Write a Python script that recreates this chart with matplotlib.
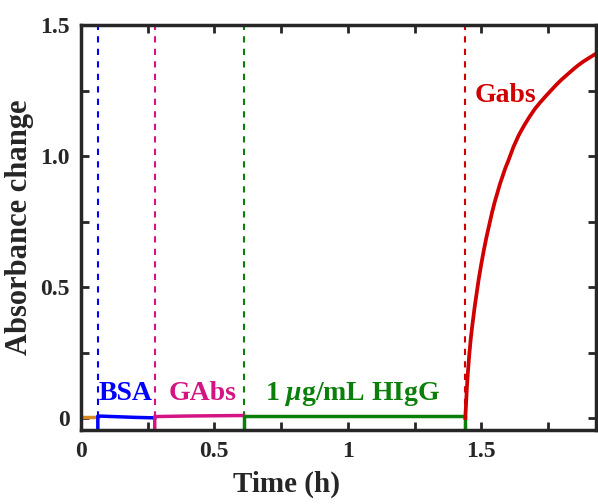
import matplotlib
matplotlib.use("Agg")
import matplotlib.pyplot as plt
from matplotlib.ticker import MultipleLocator

plt.rcParams['font.family'] = ['Liberation Serif', 'DejaVu Serif']
plt.rcParams['font.weight'] = 'bold'
plt.rcParams['mathtext.fontset'] = 'custom'
plt.rcParams['mathtext.it'] = 'Liberation Serif:italic:bold'
plt.rcParams['mathtext.rm'] = 'Liberation Serif:bold'

# step boundaries (h)
t_bsa = 0.064
t_gabs = 0.277
t_higg = 0.61
t_gabs2 = 1.44

# baseline segments
base_t = [0.0, 0.064]
base_y = [0.006, 0.006]
bsa_t = [0.064, 0.064, 0.12, 0.2, 0.277]
bsa_y = [-0.06, 0.008, 0.006, 0.003, 0.001]
gabs_t = [0.277, 0.277, 0.4, 0.5, 0.61]
gabs_y = [-0.06, 0.006, 0.008, 0.009, 0.01]
higg_t = [0.61, 0.61, 0.8, 1.0, 1.2, 1.44, 1.44]
higg_y = [-0.06, 0.008, 0.008, 0.008, 0.008, 0.008, -0.06]

# second Gabs response
red_t = [1.44, 1.443, 1.446, 1.45, 1.455, 1.46, 1.465, 1.47, 1.475, 1.48,
         1.49, 1.50, 1.51, 1.52, 1.53, 1.54, 1.55, 1.56, 1.57, 1.58, 1.59,
         1.60, 1.62, 1.64, 1.66, 1.68, 1.70, 1.72, 1.74, 1.76, 1.78, 1.80,
         1.82, 1.84, 1.86, 1.88, 1.90, 1.93]
red_y = [0.0, 0.06, 0.12, 0.18, 0.245, 0.30, 0.345, 0.385, 0.425, 0.46,
         0.53, 0.59, 0.645, 0.695, 0.74, 0.785, 0.825, 0.86, 0.895, 0.925, 0.955,
         0.98, 1.035, 1.08, 1.117, 1.15, 1.18, 1.205, 1.228, 1.25, 1.272, 1.292,
         1.31, 1.328, 1.345, 1.36, 1.373, 1.392]

c_orange = '#D98A1C'
c_blue = '#0000FF'
c_mag = '#D41483'
c_green = '#0A800A'
c_red = '#D00000'

fig = plt.figure(figsize=(5.98, 5.04), dpi=100)
ax = fig.add_axes([0.135, 0.147, 0.862, 0.803])

for t, c in [(t_bsa, c_blue), (t_gabs, c_mag), (t_higg, c_green), (t_gabs2, c_red)]:
    ax.axvline(t, color=c, ls=(0, (3, 3)), lw=1.5)

ax.plot(base_t, base_y, color=c_orange, lw=2.5)
ax.plot(bsa_t, bsa_y, color=c_blue, lw=2.5)
ax.plot(gabs_t, gabs_y, color=c_mag, lw=2.5)
ax.plot(higg_t, higg_y, color=c_green, lw=2.5)
ax.plot(red_t, red_y, color=c_red, lw=2.7, solid_joinstyle='round')

ax.text(0.065, 0.07, 'BSA', color=c_blue, fontsize=20, fontweight='bold')
ax.text(0.33, 0.07, 'GAbs', color=c_mag, fontsize=20, fontweight='bold')
ax.text(0.69, 0.07, r'1 $\mu$g/mL HIgG', color=c_green, fontsize=20, fontweight='bold')
ax.text(1.475, 1.205, 'Gabs', color=c_red, fontsize=20, fontweight='bold')

ax.set_xlim(0, 1.93)
ax.set_ylim(-0.045, 1.5)
ax.set_xticks([0, 0.5, 1, 1.5])
ax.set_xticklabels(['0', '0.5', '1', '1.5'])
ax.set_yticks([0, 0.5, 1.0, 1.5])
ax.set_yticklabels(['0', '0.5', '1.0', '1.5'])
ax.xaxis.set_minor_locator(MultipleLocator(0.25))
ax.yaxis.set_minor_locator(MultipleLocator(0.25))
ax.tick_params(which='both', direction='in', top=True, right=True, width=2,
               colors='#262626', labelsize=17, pad=8)
ax.tick_params(which='major', length=6)
ax.tick_params(which='minor', length=6)
for s in ax.spines.values():
    s.set_linewidth(2.5)
    s.set_color('#262626')

ax.set_xlabel('Time (h)', fontsize=21, fontweight='bold', color='#262626', labelpad=0)
ax.xaxis.set_label_coords(0.40, -0.10, transform=ax.transAxes)
ax.xaxis.label.set_va('top')
ax.set_ylabel('Absorbance change', fontsize=22, fontweight='bold', color='#262626', labelpad=4)

fig.savefig('out.png', dpi=100)
